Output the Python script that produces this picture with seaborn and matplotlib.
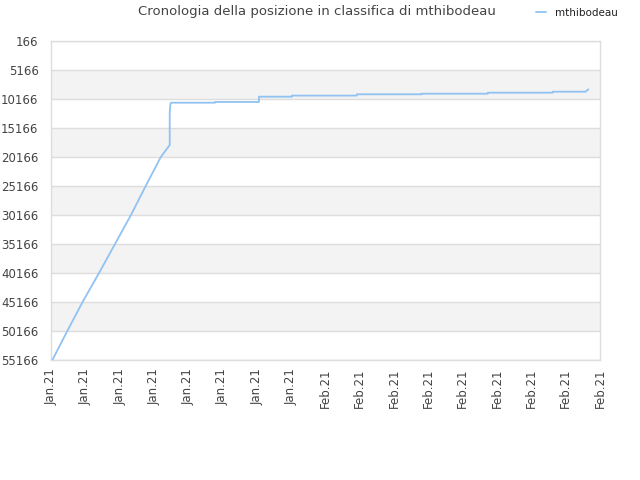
import pandas as pd
import matplotlib
matplotlib.use('Agg')
import matplotlib.pyplot as plt
import seaborn as sns


# Values (x in tick units, y = ranking position)
x_pos = [0.04, 0.475, 0.92, 1.40, 1.865, 2.33, 2.76, 3.20, 3.46, 3.46, 3.48, 3.50,
         4.78, 4.78, 6.06, 6.06, 7.02, 7.02, 8.91, 8.91, 10.80, 10.80,
         12.73, 12.73, 14.62, 14.62, 15.58, 15.66]
ranks = [55166, 50166, 45166, 40166, 35166, 30166, 25166, 20166, 18097, 12500, 11000, 10803,
         10803, 10682, 10682, 9769, 9769, 9580, 9580, 9355, 9355, 9251,
         9251, 9079, 9079, 8907, 8907, 8493]

y_ticks = [166, 5166, 10166, 15166, 20166, 25166, 30166, 35166, 40166,
           45166, 50166, 55166]
x_labels = ['Jan.21'] * 8 + ['Feb.21'] * 9

df = pd.DataFrame({'x': x_pos, 'rank': ranks})

sns.set_style('white')
plt.rcParams['font.family'] = ['DejaVu Sans']

fig = plt.figure(figsize=(6.4, 4.8), dpi=100)
ax = fig.add_axes([51 / 640, 1 - 360 / 480, 549 / 640, 319 / 480])

# alternating horizontal bands
for i in range(len(y_ticks) - 1):
    if i % 2 == 1:
        ax.axhspan(y_ticks[i], y_ticks[i + 1], color='#f3f3f3', zorder=0, lw=0)
for t in y_ticks:
    ax.axhline(t, color='#dddddd', lw=1, zorder=1)

sns.lineplot(data=df, x='x', y='rank', ax=ax, color='#90c2f2', lw=1.3,
             sort=False, estimator=None, label='mthibodeau', zorder=3)

ax.set_xlim(0, 16)
ax.set_ylim(55166, 166)
ax.set_yticks(y_ticks)
ax.set_yticklabels([str(t) for t in y_ticks], fontsize=8.5, color='#444444')
ax.set_xticks(range(len(x_labels)))
ax.set_xticklabels(x_labels, rotation=90, fontsize=8.5, color='#444444')
ax.tick_params(axis='y', length=0, pad=9)
ax.tick_params(axis='x', length=0, pad=6)
ax.set_xlabel('')
ax.set_ylabel('')

for s in ax.spines.values():
    s.set_color('#dddddd')
    s.set_linewidth(1)

fig.text(0.495, 0.975, 'Cronologia della posizione in classifica di mthibodeau',
         ha='center', va='center', fontsize=9.5, color='#444444')

leg = ax.legend(loc='center left', bbox_to_anchor=((536 - 51) / 549, 1 + 28 / 319),
                frameon=False, fontsize=7.5, handlelength=1.0, handletextpad=0.8,
                borderaxespad=0, borderpad=0)
for txt in leg.get_texts():
    txt.set_color('#222222')

fig.savefig('out.png', dpi=100)
